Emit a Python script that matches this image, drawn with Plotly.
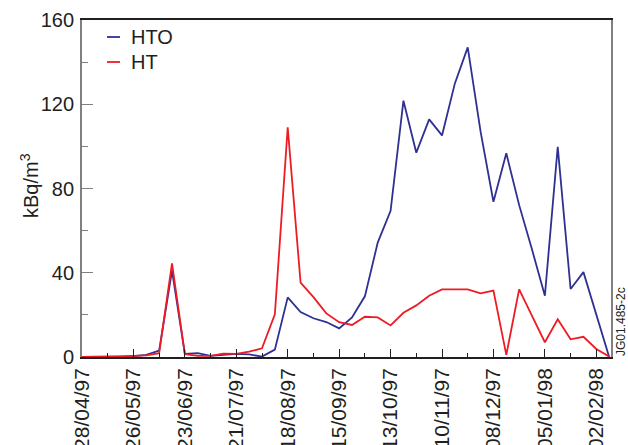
import plotly.graph_objects as go

dates = [
    "1997-04-28", "1997-05-05", "1997-05-12", "1997-05-19", "1997-05-26", "1997-06-02",
    "1997-06-09", "1997-06-16", "1997-06-23", "1997-06-30", "1997-07-07", "1997-07-14",
    "1997-07-21", "1997-07-28", "1997-08-04", "1997-08-11", "1997-08-18", "1997-08-25",
    "1997-09-01", "1997-09-08", "1997-09-15", "1997-09-22", "1997-09-29", "1997-10-06",
    "1997-10-13", "1997-10-20", "1997-10-27", "1997-11-03", "1997-11-10", "1997-11-17",
    "1997-11-24", "1997-12-01", "1997-12-08", "1997-12-15", "1997-12-22", "1997-12-29",
    "1998-01-05", "1998-01-12", "1998-01-19", "1998-01-26", "1998-02-02", "1998-02-09",
]

hto = [0, 0, 0, 0.2, 0.4, 1, 3, 41, 1.5, 1.8, 0.5, 1, 1.5, 1.2, 0.2, 3.5, 28.3, 21.3,
       18.4, 16.6, 13.6, 18.8, 28.8, 54.3, 69.4, 121.7, 97, 112.8, 105.2, 129.9, 147,
       107, 73.7, 96.7, 72.1, 51, 29.1, 99.8, 32.3, 40.3, 20, 0]

ht = [0, 0, 0.1, 0.3, 0.5, 0.8, 1.8, 44.5, 1.3, 0.5, 0.5, 1.6, 1.5, 2.5, 4.1, 20.3, 109,
      35.3, 28.4, 20.7, 16.5, 15.2, 19.1, 18.8, 15, 21, 24.5, 29.1, 32.1, 32.1, 32.1,
      30.2, 31.5, 1, 32.1, 19.5, 7, 17.9, 8.4, 9.6, 3.8, 0.2]

y_ticks = [0, 40, 80, 120, 160]

BLUE = "#2e3192"
RED = "#ed1c24"
TXT = "#231f20"
FONT = "Liberation Sans, Arial, Helvetica, sans-serif"
DAY_MS = 86400000

fig = go.Figure()
fig.add_trace(go.Scatter(x=dates, y=hto, mode="lines", name="HTO",
                         line=dict(color=BLUE, width=1.8), showlegend=False))
fig.add_trace(go.Scatter(x=dates, y=ht, mode="lines", name="HT",
                         line=dict(color=RED, width=1.8), showlegend=False))

W, H = 628, 445
L, R, T, B = 82, 17, 20, 88
pw, ph = W - L - R, H - T - B

def px_to_paper(x, y):
    return (x - L) / pw, (H - B - y) / ph

# legend (manual, small line samples)
for name, col, yy in [("HTO", BLUE, 37), ("HT", RED, 62)]:
    x0, y0 = px_to_paper(107, yy)
    x1, _ = px_to_paper(120, yy)
    fig.add_shape(type="line", xref="paper", yref="paper", x0=x0, x1=x1, y0=y0, y1=y0,
                  line=dict(color=col, width=1.8))
    xt, _ = px_to_paper(129, yy)
    fig.add_annotation(xref="paper", yref="paper", x=xt, y=y0, text=name, showarrow=False,
                       xanchor="left", yanchor="middle",
                       font=dict(family=FONT, size=20, color=TXT))

# y axis title
xa, ya = px_to_paper(29, 186)
fig.add_annotation(xref="paper", yref="paper", x=xa, y=ya, text="kBq/m<sup>3</sup>",
                   textangle=-90, showarrow=False, xanchor="center", yanchor="middle",
                   font=dict(family=FONT, size=20, color=TXT))

# figure code at right
xc, yc = px_to_paper(621, 322)
fig.add_annotation(xref="paper", yref="paper", x=xc, y=yc, text="JG01.485-2c",
                   textangle=-90, showarrow=False, xanchor="center", yanchor="middle",
                   font=dict(family=FONT, size=12, color=TXT))

fig.update_layout(
    width=W, height=H,
    margin=dict(l=L, r=R, t=T, b=B, autoexpand=False),
    paper_bgcolor="white", plot_bgcolor="white",
    font=dict(family=FONT, size=20, color=TXT),
    xaxis=dict(
        type="date",
        range=["1997-04-28", "1998-02-10"],
        tickmode="linear", tick0="1997-04-28", dtick=28 * DAY_MS,
        tickformat="%d/%m/%y", tickangle=-90,
        ticks="inside", ticklen=8, tickwidth=1.2, tickcolor="#231f20",
        minor=dict(dtick=14 * DAY_MS, tick0="1997-04-28", ticks="inside", ticklen=4,
                   tickwidth=1.2, tickcolor="#231f20", showgrid=False),
        showline=True, linecolor="#231f20", linewidth=1.5, mirror=True,
        showgrid=False, zeroline=False, automargin=False,
        tickfont=dict(family=FONT, size=21, color=TXT),
        ticklabelstandoff=1,
    ),
    yaxis=dict(
        range=[0, 160],
        tickmode="array", tickvals=y_ticks, ticktext=[str(v) for v in y_ticks],
        ticks="inside", ticklen=11, tickwidth=1.2, tickcolor="#808080",
        minor=dict(dtick=20, tick0=0, ticks="inside", ticklen=6, tickwidth=1.2,
                   tickcolor="#808080", showgrid=False),
        showline=True, linecolor="#808080", linewidth=1.8, mirror=True,
        showgrid=False, zeroline=False, automargin=False,
        tickfont=dict(family=FONT, size=20, color=TXT),
        ticklabelstandoff=2,
    ),
)

fig.write_html("out.html",
               config={"displayModeBar": False},
               post_script="document.body.style.margin='0';document.body.style.overflow='hidden';")
